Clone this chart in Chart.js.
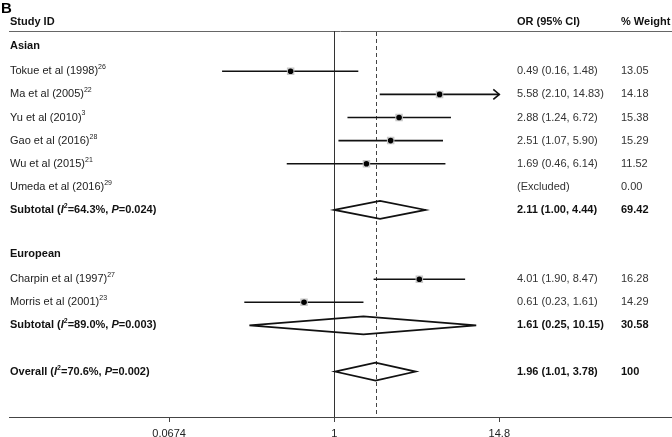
<!DOCTYPE html>
<html>
<head>
<meta charset="utf-8">
<script src="https://cdn.jsdelivr.net/npm/chart.js@4"></script>
<style>
  body { margin: 0; background: #fff; }
</style>
</head>
<body>
<canvas id="forest" width="672" height="437"></canvas>
<script>
// study rows
var studyNames = ['Tokue et al (1998)', 'Ma et al (2005)', 'Yu et al (2010)', 'Gao et al (2016)', 'Wu et al (2015)', 'Umeda et al (2016)', 'Charpin et al (1997)', 'Morris et al (2001)'];
var studyRefs = ['26', '22', '3', '28', '21', '29', '27', '23'];
var studyRows = [0, 1, 2, 3, 4, 5, 9, 10];
var studyOR = [0.49, 5.58, 2.88, 2.51, 1.69, null, 4.01, 0.61];
var studyLow = [0.16, 2.10, 1.24, 1.07, 0.46, null, 1.90, 0.23];
var studyHigh = [1.48, 14.83, 6.72, 5.90, 6.14, null, 8.47, 1.61];
var studyWeight = ['13.05', '14.18', '15.38', '15.29', '11.52', '0.00', '16.28', '14.29'];

// group headers
var groupNames = ['Asian', 'European'];
var groupRows = [-1.1, 7.9];

// subtotals + overall
var pooledNames = ['Subtotal', 'Subtotal', 'Overall'];
var pooledI2 = ['64.3%', '89.0%', '70.6%'];
var pooledP = ['0.024', '0.003', '0.002'];
var pooledRows = [6, 11, 13];
var pooledOR = [2.11, 1.61, 1.96];
var pooledLow = [1.00, 0.25, 1.01];
var pooledHigh = [4.44, 10.15, 3.78];
var pooledWeight = ['69.42', '30.58', '100'];

var tickValues = [0.0674, 1, 14.8];
var tickLabels = ['0.0674', '1', '14.8'];
var headerRow = -2.12;
var nullValue = 1;
var overallOR = 1.96;

// where the value 1 sits and how wide a decade is
var onePixel = 334.3;
var pxPerDecade = 141;

var FONT = '"Liberation Sans", Arial, Helvetica, sans-serif';

var points = [];
for (var i = 0; i < studyOR.length; i++) {
    if (studyOR[i] !== null) points.push({ x: studyOR[i], y: studyRows[i] });
}

function fmt(v) { return v.toFixed(2); }

// draws a line of text made of parts (bold / italic / superscript)
function drawParts(ctx, x, y, parts, color) {
    ctx.save();
    ctx.fillStyle = color;
    ctx.textBaseline = 'middle';
    ctx.textAlign = 'left';
    parts.forEach(function (p) {
        var size = p.size || (p.sup ? 7 : 11);
        ctx.font = (p.italic ? 'italic ' : '') + (p.bold ? 'bold ' : '') + size + 'px ' + FONT;
        ctx.fillText(p.t, x, p.sup ? y - 4 : y);
        x += ctx.measureText(p.t).width;
    });
    ctx.restore();
}

var forestPlugin = {
    id: 'forest',
    beforeDatasetsDraw: function (chart) {
        var ctx = chart.ctx, xs = chart.scales.x, ys = chart.scales.y, area = chart.chartArea;
        var clipMax = tickValues[tickValues.length - 1];
        ctx.save();

        // header rule
        ctx.strokeStyle = '#666';
        ctx.lineWidth = 1;
        ctx.beginPath();
        ctx.moveTo(area.left, area.top + 0.5);
        ctx.lineTo(chart.width, area.top + 0.5);
        ctx.stroke();

        // carry the axis line on to the right edge
        ctx.strokeStyle = '#444';
        ctx.beginPath();
        ctx.moveTo(area.right - 1, Math.round(area.bottom) + 0.5);
        ctx.lineTo(chart.width, Math.round(area.bottom) + 0.5);
        ctx.stroke();

        // no-effect line
        var x1 = Math.round(xs.getPixelForValue(nullValue)) + 0.5;
        ctx.strokeStyle = '#333';
        ctx.beginPath();
        ctx.moveTo(x1, area.top);
        ctx.lineTo(x1, area.bottom);
        ctx.stroke();

        // overall estimate, dashed
        var xo = Math.round(xs.getPixelForValue(overallOR)) + 0.5;
        ctx.strokeStyle = '#444';
        ctx.setLineDash([4, 3]);
        ctx.beginPath();
        ctx.moveTo(xo, area.top + 1);
        ctx.lineTo(xo, area.bottom);
        ctx.stroke();
        ctx.setLineDash([]);

        // confidence intervals
        ctx.strokeStyle = '#111';
        ctx.lineWidth = 1.6;
        for (var i = 0; i < studyOR.length; i++) {
            if (studyOR[i] === null) continue;
            var y = ys.getPixelForValue(studyRows[i]);
            var hi = Math.min(studyHigh[i], clipMax);
            var xl = xs.getPixelForValue(studyLow[i]);
            var xh = xs.getPixelForValue(hi);
            ctx.beginPath();
            ctx.moveTo(xl, y);
            ctx.lineTo(xh, y);
            ctx.stroke();
            if (studyHigh[i] > clipMax) {
                ctx.beginPath();
                ctx.moveTo(xh - 6, y - 5);
                ctx.lineTo(xh, y);
                ctx.lineTo(xh - 6, y + 5);
                ctx.stroke();
            }
        }

        // diamonds
        ctx.lineWidth = 1.7;
        ctx.lineJoin = 'miter';
        for (var j = 0; j < pooledOR.length; j++) {
            var yd = ys.getPixelForValue(pooledRows[j]);
            var xc = xs.getPixelForValue(pooledOR[j]);
            ctx.beginPath();
            ctx.moveTo(xs.getPixelForValue(pooledLow[j]), yd);
            ctx.lineTo(xc, yd - 9);
            ctx.lineTo(xs.getPixelForValue(pooledHigh[j]), yd);
            ctx.lineTo(xc, yd + 9);
            ctx.closePath();
            ctx.stroke();
        }
        ctx.restore();
    },
    afterDraw: function (chart) {
        var ctx = chart.ctx, ys = chart.scales.y;
        var colL = 10, colOR = 517, colW = 621;

        drawParts(ctx, 1, 9, [{ t: 'B', bold: true, size: 15 }], '#000');

        var hy = ys.getPixelForValue(headerRow);
        drawParts(ctx, colL, hy, [{ t: 'Study ID', bold: true }], '#111');
        drawParts(ctx, colOR, hy, [{ t: 'OR (95% CI)', bold: true }], '#111');
        drawParts(ctx, colW, hy, [{ t: '% Weight', bold: true }], '#111');

        groupNames.forEach(function (g, k) {
            drawParts(ctx, colL, ys.getPixelForValue(groupRows[k]), [{ t: g, bold: true }], '#111');
        });

        studyNames.forEach(function (n, k) {
            var y = ys.getPixelForValue(studyRows[k]);
            drawParts(ctx, colL, y, [{ t: n }, { t: studyRefs[k], sup: true }], '#222');
            var orText = studyOR[k] === null ? '(Excluded)' :
                fmt(studyOR[k]) + ' (' + fmt(studyLow[k]) + ', ' + fmt(studyHigh[k]) + ')';
            drawParts(ctx, colOR, y, [{ t: orText }], '#333');
            drawParts(ctx, colW, y, [{ t: studyWeight[k] }], '#333');
        });

        pooledNames.forEach(function (n, k) {
            var y = ys.getPixelForValue(pooledRows[k]);
            drawParts(ctx, colL, y, [
                { t: n + ' (', bold: true },
                { t: 'I', bold: true, italic: true },
                { t: '2', bold: true, sup: true },
                { t: '=' + pooledI2[k] + ', ', bold: true },
                { t: 'P', bold: true, italic: true },
                { t: '=' + pooledP[k] + ')', bold: true }
            ], '#111');
            var orText = fmt(pooledOR[k]) + ' (' + fmt(pooledLow[k]) + ', ' + fmt(pooledHigh[k]) + ')';
            drawParts(ctx, colOR, y, [{ t: orText, bold: true }], '#111');
            drawParts(ctx, colW, y, [{ t: pooledWeight[k], bold: true }], '#111');
        });
    }
};

var ctx = document.getElementById('forest').getContext('2d');

var forest = new Chart(ctx, {
    type: 'scatter',
    data: {
        datasets: [{
            label: 'OR',
            data: points,
            pointStyle: 'circle',
            pointRadius: 2.8,
            backgroundColor: '#000',
            borderWidth: 0,
            order: 1
        }, {
            label: 'Weight',
            data: points,
            pointStyle: 'rect',
            pointRadius: 5.3,
            backgroundColor: '#c8c8c8',
            borderWidth: 0,
            order: 2
        }]
    },
    options: {
        responsive: false,
        animation: false,
        layout: { padding: { left: 9, right: 0, top: 31, bottom: 0 } },
        plugins: {
            legend: { display: false },
            tooltip: { enabled: false }
        },
        scales: {
            x: {
                type: 'logarithmic',
                min: 0.00493,
                max: 248.3,
                bounds: 'data',
                afterBuildTicks: function (scale) {
                    scale.ticks = tickValues.map(function (v) { return { value: v }; });
                },
                afterFit: function (scale) { scale.height = 20; },
                ticks: {
                    padding: 5,
                    color: '#222',
                    font: { family: FONT, size: 11 },
                    maxRotation: 0,
                    autoSkip: false,
                    callback: function (value, index) { return tickLabels[index]; }
                },
                grid: { drawOnChartArea: false, drawTicks: true, tickLength: 5, color: '#444' },
                border: { display: true, color: '#444', width: 1 }
            },
            y: {
                type: 'linear',
                display: false,
                reverse: true,
                min: -1.745,
                max: 14.965,
                bounds: 'data'
            }
        }
    },
    plugins: [forestPlugin]
});

// fit the log range to the real plot width so 1 and 14.8 land where they should
var area = forest.chartArea;
forest.options.scales.x.min = Math.pow(10, (area.left - onePixel) / pxPerDecade);
forest.options.scales.x.max = Math.pow(10, (area.right - onePixel) / pxPerDecade);
forest.update();
</script>
</body>
</html>
